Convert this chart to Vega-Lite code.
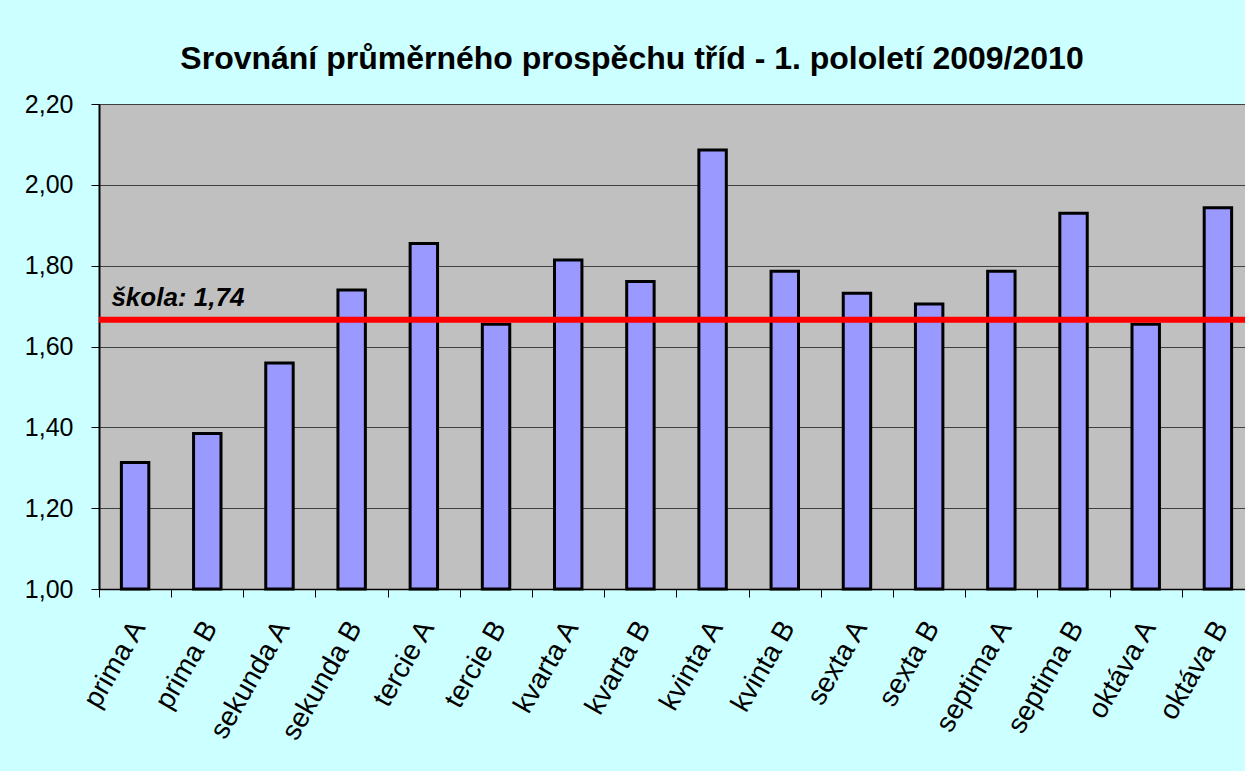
{
  "$schema": "https://vega.github.io/schema/vega-lite/v6.json",
  "autosize": "none",
  "width": 1146,
  "height": 485,
  "padding": {"left": 99, "top": 104, "right": 0, "bottom": 182},
  "background": "#CCFFFF",
  "title": {
    "text": "Srovnání průměrného prospěchu tříd - 1. pololetí 2009/2010",
    "font": "Liberation Sans",
    "fontSize": 32,
    "fontWeight": "bold",
    "color": "#000000",
    "anchor": "middle",
    "dx": -40,
    "offset": 16
  },
  "config": {
    "view": {"fill": "#C0C0C0", "stroke": "#808080", "strokeWidth": 1},
    "axis": {"labelFont": "Liberation Sans", "labelFontSize": 25, "labelColor": "#000000"}
  },
  "datasets": {
    "bars": [
      {"trida": "prima A", "prumer": 1.313},
      {"trida": "prima B", "prumer": 1.385},
      {"trida": "sekunda A", "prumer": 1.559},
      {"trida": "sekunda B", "prumer": 1.740},
      {"trida": "tercie A", "prumer": 1.855},
      {"trida": "tercie B", "prumer": 1.655},
      {"trida": "kvarta A", "prumer": 1.814},
      {"trida": "kvarta B", "prumer": 1.761},
      {"trida": "kvinta A", "prumer": 2.086},
      {"trida": "kvinta B", "prumer": 1.786},
      {"trida": "sexta A", "prumer": 1.732},
      {"trida": "sexta B", "prumer": 1.705},
      {"trida": "septima A", "prumer": 1.786},
      {"trida": "septima B", "prumer": 1.930},
      {"trida": "oktáva A", "prumer": 1.655},
      {"trida": "oktáva B", "prumer": 1.943}
    ],
    "skola": [
      {"trida": "prima A", "hodnota": 1.666, "popis": "škola: 1,74"}
    ]
  },
  "layer": [
    {
      "data": {"name": "bars"},
      "mark": {"type": "bar", "color": "#9999FF", "stroke": "#000000", "strokeWidth": 3},
      "encoding": {
        "x": {
          "field": "trida",
          "type": "nominal",
          "title": null,
          "scale": {
            "domain": ["prima A", "prima B", "sekunda A", "sekunda B", "tercie A", "tercie B", "kvarta A", "kvarta B", "kvinta A", "kvinta B", "sexta A", "sexta B", "septima A", "septima B", "oktáva A", "oktáva B"],
            "range": [0, 1155],
            "paddingInner": 0.62,
            "paddingOuter": 0.31
          },
          "axis": {
            "bandPosition": -0.8,
            "labelOffset": 4,
            "labelAngle": -60,
            "labelFontSize": 28,
            "labelPadding": 26,
            "tickSize": 8,
            "tickColor": "#000000",
            "domainColor": "#000000",
            "domainWidth": 1.5,
            "grid": false
          }
        },
        "y": {
          "field": "prumer",
          "type": "quantitative",
          "title": null,
          "scale": {"domain": [1, 2.2], "zero": false, "nice": false},
          "axis": {
            "values": [1, 1.2, 1.4, 1.6, 1.8, 2.0, 2.2],
            "labelExpr": "replace(format(datum.value, '.2f'), '.', ',')",
            "labelPadding": 18,
            "tickSize": 8,
            "tickColor": "#000000",
            "domainColor": "#000000",
            "domainWidth": 2,
            "grid": true,
            "gridColor": "#404040",
            "gridWidth": 1
          }
        },
        "y2": {"datum": 1}
      }
    },
    {
      "data": {"name": "skola"},
      "mark": {"type": "rule", "color": "#FF0000", "strokeWidth": 6},
      "encoding": {
        "y": {"field": "hodnota", "type": "quantitative"}
      }
    },
    {
      "data": {"name": "skola"},
      "mark": {
        "type": "text",
        "font": "Liberation Sans",
        "fontSize": 26,
        "fontWeight": "bold",
        "fontStyle": "italic",
        "align": "left",
        "baseline": "alphabetic",
        "dx": -10,
        "dy": -14,
        "color": "#000000"
      },
      "encoding": {
        "x": {"field": "trida", "type": "nominal", "bandPosition": 0},
        "y": {"field": "hodnota", "type": "quantitative"},
        "text": {"field": "popis"}
      }
    }
  ]
}
